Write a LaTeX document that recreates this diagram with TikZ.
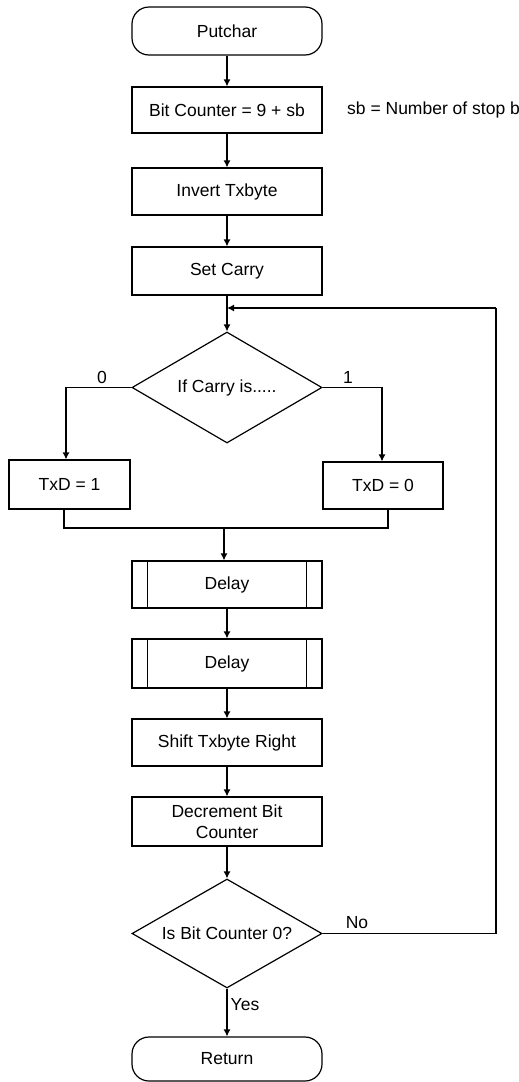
\documentclass[tikz,border=0pt]{standalone}
\usepackage{fontspec}
\setmainfont{Liberation Sans}
\usetikzlibrary{shapes.geometric,arrows.meta}
\begin{document}
\begin{tikzpicture}[x=1pt,y=-1pt,
  every node/.style={font=\fontsize{17.5}{21}\selectfont},
  base/.style={draw, line width=1.2pt, inner sep=0pt, align=center},
  procbox/.style={base, rectangle, minimum width=190pt},
  termbox/.style={base, rectangle, rounded corners=17pt, minimum width=190pt},
  decbox/.style={base, diamond, aspect=1.7, minimum width=190pt},
  conn/.style={line width=1.2pt},
  arr/.style={conn, -{Latex[length=7pt,width=7pt]}},
  lbl/.style={inner sep=0pt}
]
\useasboundingbox (0,0) rectangle (519,1082);

\node[termbox, minimum height=48pt] (put) at (227,31) {Putchar};
\node[procbox, minimum height=46pt] (bc) at (227,110) {Bit Counter = 9 + sb};
\node[lbl, anchor=west] (note) at (347,110) {sb = Number of stop b};
\node[procbox, minimum height=47pt] (inv) at (227,191.5) {Invert Txbyte};
\node[procbox, minimum height=48pt] (sc) at (227,271) {Set Carry};
\node[decbox, minimum height=111pt] (d1) at (227,387.5) {If Carry is.....};
\node[procbox, minimum width=121pt, minimum height=49pt] (t1) at (69.5,484.5) {TxD = 1};
\node[procbox, minimum width=120pt, minimum height=47pt] (t0) at (383,485.5) {TxD = 0};
\node[procbox, minimum height=47pt] (dl1) at (227,584.5) {Delay};
\node[procbox, minimum height=49pt] (dl2) at (227,663.5) {Delay};
\node[procbox, minimum height=47pt] (sh) at (227,742.5) {Shift Txbyte Right};
\node[procbox, minimum height=49pt] (dec) at (227,821.5) {Decrement Bit\\Counter};
\node[decbox, minimum height=109pt] (d2) at (227,933.5) {Is Bit Counter 0?};
\node[termbox, minimum height=44pt] (ret) at (227,1059) {Return};

% inner bars of predefined-process boxes
\foreach \n in {dl1,dl2}{
  \draw[conn] ([xshift=16pt]\n.north west) -- ([xshift=16pt]\n.south west);
  \draw[conn] ([xshift=-16pt]\n.north east) -- ([xshift=-16pt]\n.south east);
}

% labels
\node[lbl] (l0) at (102,377) {0};
\node[lbl] (l1) at (348,377) {1};
\node[lbl] (lno) at (357,923) {No};
\node[lbl] (lyes) at (245,1005) {Yes};

% connectors
\draw[arr] (put) -- (bc);
\draw[arr] (bc) -- (inv);
\draw[arr] (inv) -- (sc);
\draw[arr] (sc) -- (d1);
\draw[arr] (d1.west) -| ([xshift=-3.5pt]t1.north);
\draw[arr] (d1.east) -| ([xshift=-1pt]t0.north);
\coordinate (m) at (224,528);
\draw[conn] ([xshift=-5.5pt]t1.south) |- (m) -| ([xshift=5pt]t0.south);
\draw[arr] (m) -- (dl1.north -| m);
\draw[arr] (dl1) -- (dl2);
\draw[arr] (dl2) -- (sh);
\draw[arr] (sh) -- (dec);
\draw[arr] (dec) -- (d2);
\draw[arr] (d2) -- (ret);
\coordinate (lp) at (496,308);
\draw[conn] (d2.east) -| (lp);
\draw[arr] (lp) -- (sc.south |- lp);
\end{tikzpicture}
\end{document}
